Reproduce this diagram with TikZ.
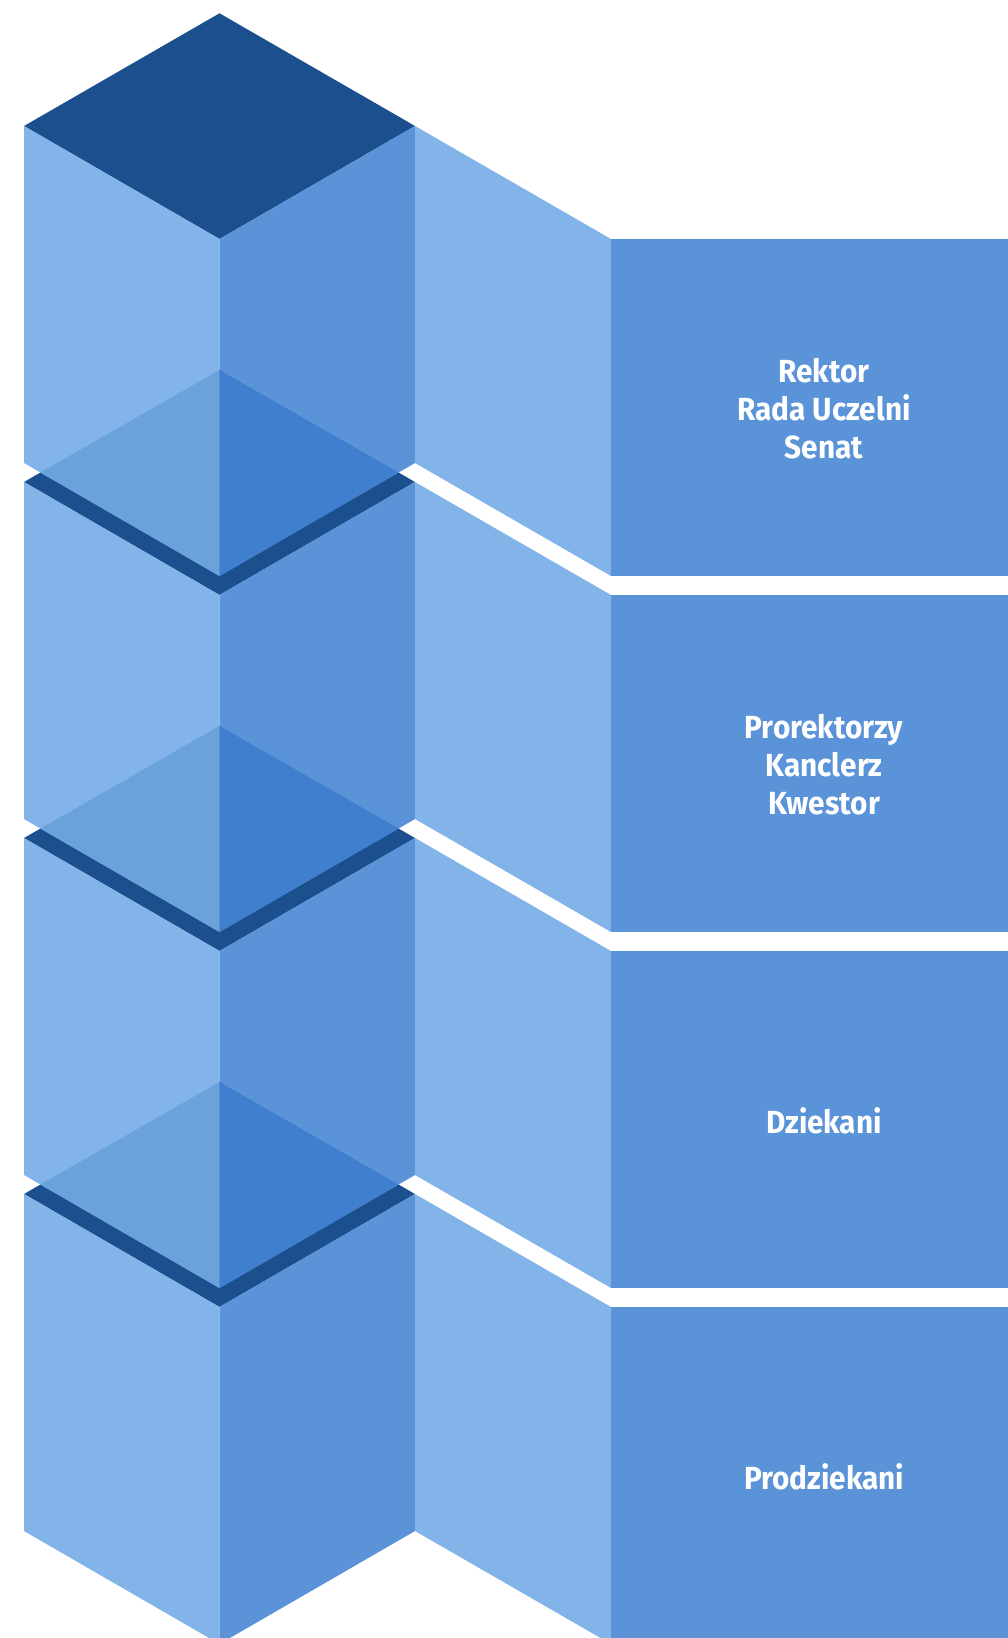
\documentclass[tikz,border=0pt]{standalone}
\usepackage{fontspec}
\newfontfamily\lblfont[FakeStretch=0.93]{Fira Sans}
\definecolor{cdark}{HTML}{1C4F8E}
\definecolor{clight}{HTML}{82B4EA}
\definecolor{cmid}{HTML}{5A93D8}
\definecolor{covl}{HTML}{6AA2DC}
\definecolor{covr}{HTML}{3F7FCD}
\tikzset{
  topface/.style={fill=cdark},
  leftface/.style={fill=clight},
  rightface/.style={fill=cmid},
  ribbon/.style={fill=clight},
  panel/.style={fill=cmid},
  ovleft/.style={fill=covl},
  ovright/.style={fill=covr},
  lbl/.style={text=white, font=\lblfont\bfseries\fontsize{32}{38.3}\selectfont, align=center, inner sep=0pt}
}
\begin{document}
\begin{tikzpicture}[x=1pt,y=-1pt]
\useasboundingbox (0,0) rectangle (1008,1638);
\foreach \k in {3,2,1,0}{
  \pgfmathsetmacro\o{356*\k}
  \fill[topface] (219.5,{13.3+\o}) -- (415,{126+\o}) -- (219.5,{239+\o}) -- (24,{126+\o}) -- cycle;
  \fill[leftface] (24,{126+\o}) -- (219.5,{239+\o}) -- (219.5,{576+\o}) -- (24,{463+\o}) -- cycle;
  \fill[rightface] (219.5,{239+\o}) -- (415,{126+\o}) -- (415,{463+\o}) -- (219.5,{576+\o}) -- cycle;
  \fill[ribbon] (415,{126+\o}) -- (611,{239+\o}) -- (611,{576+\o}) -- (415,{463+\o}) -- cycle;
  \fill[panel] (611,{239+\o}) rectangle (1008,{576+\o});
}
\foreach \k in {0,1,2}{
  \pgfmathsetmacro\o{356*\k}
  \fill[ovleft] (219.5,{370+\o}) -- (40.5,{472.5+\o}) -- (219.5,{576+\o}) -- cycle;
  \fill[ovright] (219.5,{370+\o}) -- (398.5,{472.5+\o}) -- (219.5,{576+\o}) -- cycle;
}
\node[lbl] (t1) at (824,408.5) {Rektor\\Rada Uczelni\\Senat};
\node[lbl] (t2) at (824,764.5) {Prorektorzy\\Kanclerz\\Kwestor};
\node[lbl] (t3) at (824,1120.5) {Dziekani};
\node[lbl] (t4) at (824,1476.5) {Prodziekani};
\end{tikzpicture}
\end{document}
